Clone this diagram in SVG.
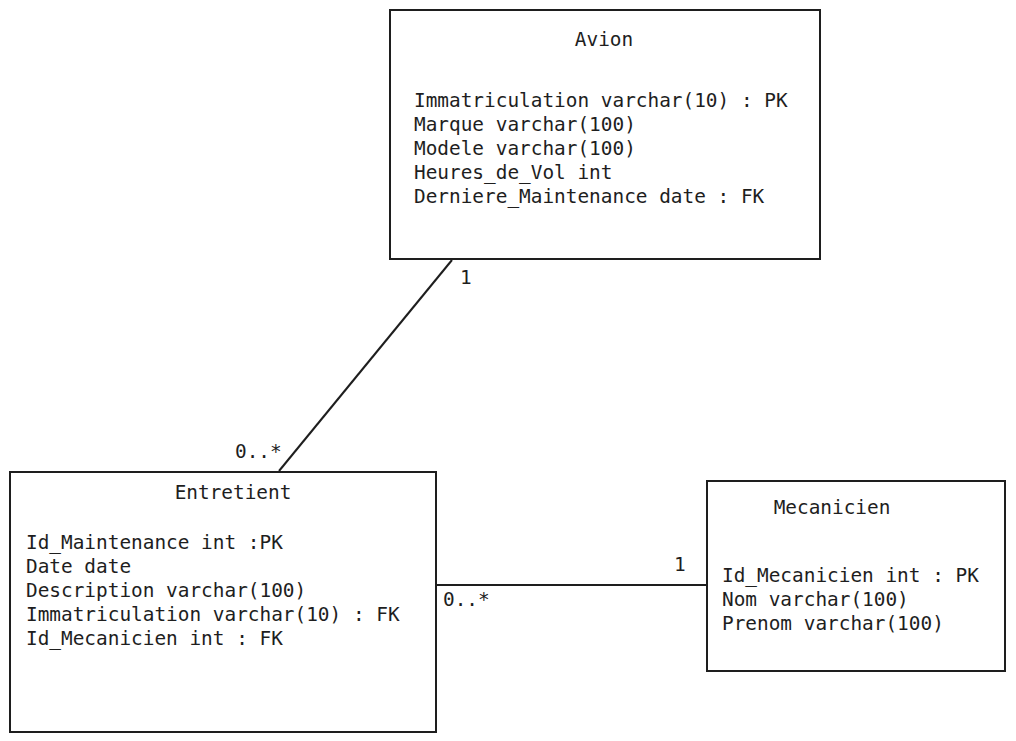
<svg xmlns="http://www.w3.org/2000/svg" width="1016" height="741" viewBox="0 0 1016 741">
<style>
.box{fill:#fff;stroke:#1e1e1e;stroke-width:2}
.t{font-family:"DejaVu Sans Mono","Liberation Mono",monospace;font-size:19.4px;fill:#1e1e1e}
.c{text-anchor:middle}
.ln{stroke:#1e1e1e;stroke-width:2;fill:none}
</style>
<rect width="1016" height="741" fill="#fff"/>
<g id="connectors">
<line class="ln" x1="452" y1="260" x2="279" y2="471"/>
<line class="ln" x1="437" y1="585" x2="707" y2="585"/>
<text class="t" x="460" y="284">1</text>
<text class="t" x="235" y="458">0..*</text>
<text class="t" x="674" y="571">1</text>
<text class="t" x="443" y="606">0..*</text>
</g>
<g id="avion">
<rect class="box" x="390" y="10" width="430" height="249"/>
<text class="t c" x="604" y="46">Avion</text>
<text class="t" x="414" y="107">Immatriculation varchar(10) : PK</text>
<text class="t" x="414" y="131">Marque varchar(100)</text>
<text class="t" x="414" y="155">Modele varchar(100)</text>
<text class="t" x="414" y="179">Heures_de_Vol int</text>
<text class="t" x="414" y="203">Derniere_Maintenance date : FK</text>
</g>
<g id="entretient">
<rect class="box" x="10" y="472" width="426" height="260"/>
<text class="t c" x="233" y="499">Entretient</text>
<text class="t" x="26" y="549">Id_Maintenance int :PK</text>
<text class="t" x="26" y="573">Date date</text>
<text class="t" x="26" y="597">Description varchar(100)</text>
<text class="t" x="26" y="621">Immatriculation varchar(10) : FK</text>
<text class="t" x="26" y="645">Id_Mecanicien int : FK</text>
</g>
<g id="mecanicien">
<rect class="box" x="707" y="481" width="298" height="190"/>
<text class="t c" x="832" y="514">Mecanicien</text>
<text class="t" x="722" y="582">Id_Mecanicien int : PK</text>
<text class="t" x="722" y="606">Nom varchar(100)</text>
<text class="t" x="722" y="630">Prenom varchar(100)</text>
</g>
</svg>
